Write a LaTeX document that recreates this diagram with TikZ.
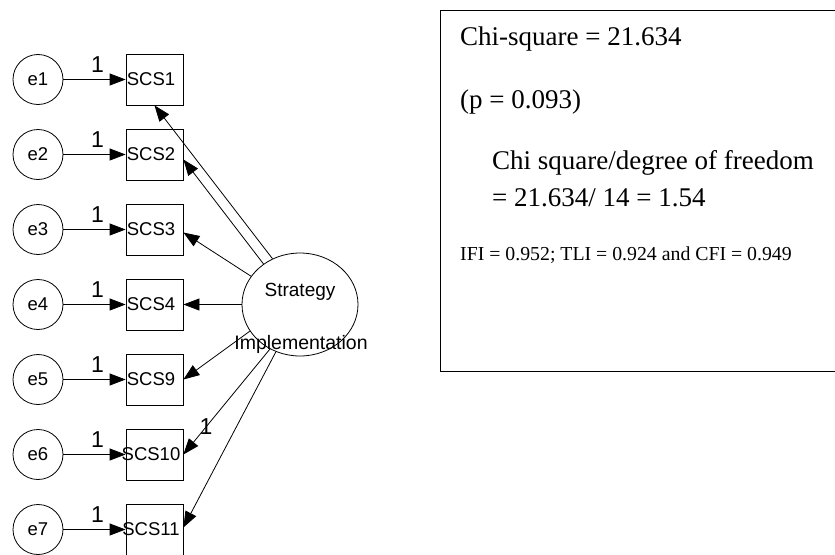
\documentclass[tikz,border=0pt]{standalone}
\usepackage{fontspec}
\setmainfont{Liberation Serif}
\setsansfont{Liberation Sans}
\usetikzlibrary{arrows.meta,shapes.geometric,calc}

\tikzset{
  errvar/.style={draw, circle, minimum size=50pt, inner sep=0pt, line width=0.8pt,
    font=\sffamily\fontsize{18.5}{20}\selectfont},
  item/.style={draw, rectangle, minimum width=57pt, minimum height=51pt, inner sep=0pt,
    line width=0.8pt},
  itemlab/.style={font=\sffamily\fontsize{18.5}{20}\selectfont, xshift=-3.5pt},
  load/.style={-{Triangle[length=16pt,width=12pt]}, line width=0.8pt},
  one/.style={font=\sffamily\fontsize{23}{24}\selectfont},
  fit/.style={anchor=base west, inner sep=0pt},
}

\begin{document}
\begin{tikzpicture}[x=1pt,y=-1pt]
  \useasboundingbox (0,0) rectangle (835,554);
  \clip (0,0) rectangle (835,554);

  % Error terms and indicators
  \foreach \i/\lab in {1/SCS1,2/SCS2,3/SCS3,4/SCS4,5/SCS9,6/SCS10,7/SCS11} {
    \pgfmathsetmacro\yy{79.5+75*(\i-1)}
    \node[errvar] (e\i) at (38,\yy) {e\i};
    \node[item, label={[itemlab]center:\lab}] (s\i) at (154.5,\yy) {};
    \draw[load] (e\i) -- (s\i) node[pos=0.55, above=3pt, one] {1};
  }

  % Latent factor
  \node[draw, ellipse, minimum width=116pt, minimum height=103pt, line width=0.8pt] (strat) at (300,304.5) {};
  \node[font=\sffamily\fontsize{19}{20}\selectfont] (stratA) at (300,292) {Strategy};
  \node[font=\sffamily\fontsize{19.5}{20}\selectfont] (stratB) at (301,344) {Implementation};

  % Loadings
  \draw[load] (strat.121) -- (s1.south);
  \draw[load] (strat.132) -- ($(s2.east)+(0,5)$);
  \draw[load] (strat.150) -- ($(s3.east)+(0,3)$);
  \draw[load] (strat.180) -- (s4.east);
  \draw[load] (strat.208) -- (s5.east);
  \draw[load] (strat.236) -- (s6.east) node[pos=0.74, one] {1};
  \draw[load] (strat.243) -- ($(s7.east)+(0,-2)$);

  % Fit statistics
  \node[draw, line width=1.3pt, anchor=north west, minimum width=400pt, minimum height=361pt] (fitbox) at (440,10) {};
  \node[fit, font=\fontsize{27}{28}\selectfont] (chi) at (460,45) {Chi-square = 21.634};
  \node[fit, font=\fontsize{27}{28}\selectfont] (pval) at (460,108) {(p = 0.093)};
  \node[fit, font=\fontsize{27}{28}\selectfont] (ratio) at (492,169) {Chi square/degree of freedom};
  \node[fit, font=\fontsize{27}{28}\selectfont] (ratiob) at (492,206) {= 21.634/ 14 = 1.54};
  \node[fit, font=\fontsize{19.8}{21}\selectfont] (idx) at (460,260) {IFI = 0.952; TLI = 0.924 and CFI = 0.949};
\end{tikzpicture}
\end{document}
